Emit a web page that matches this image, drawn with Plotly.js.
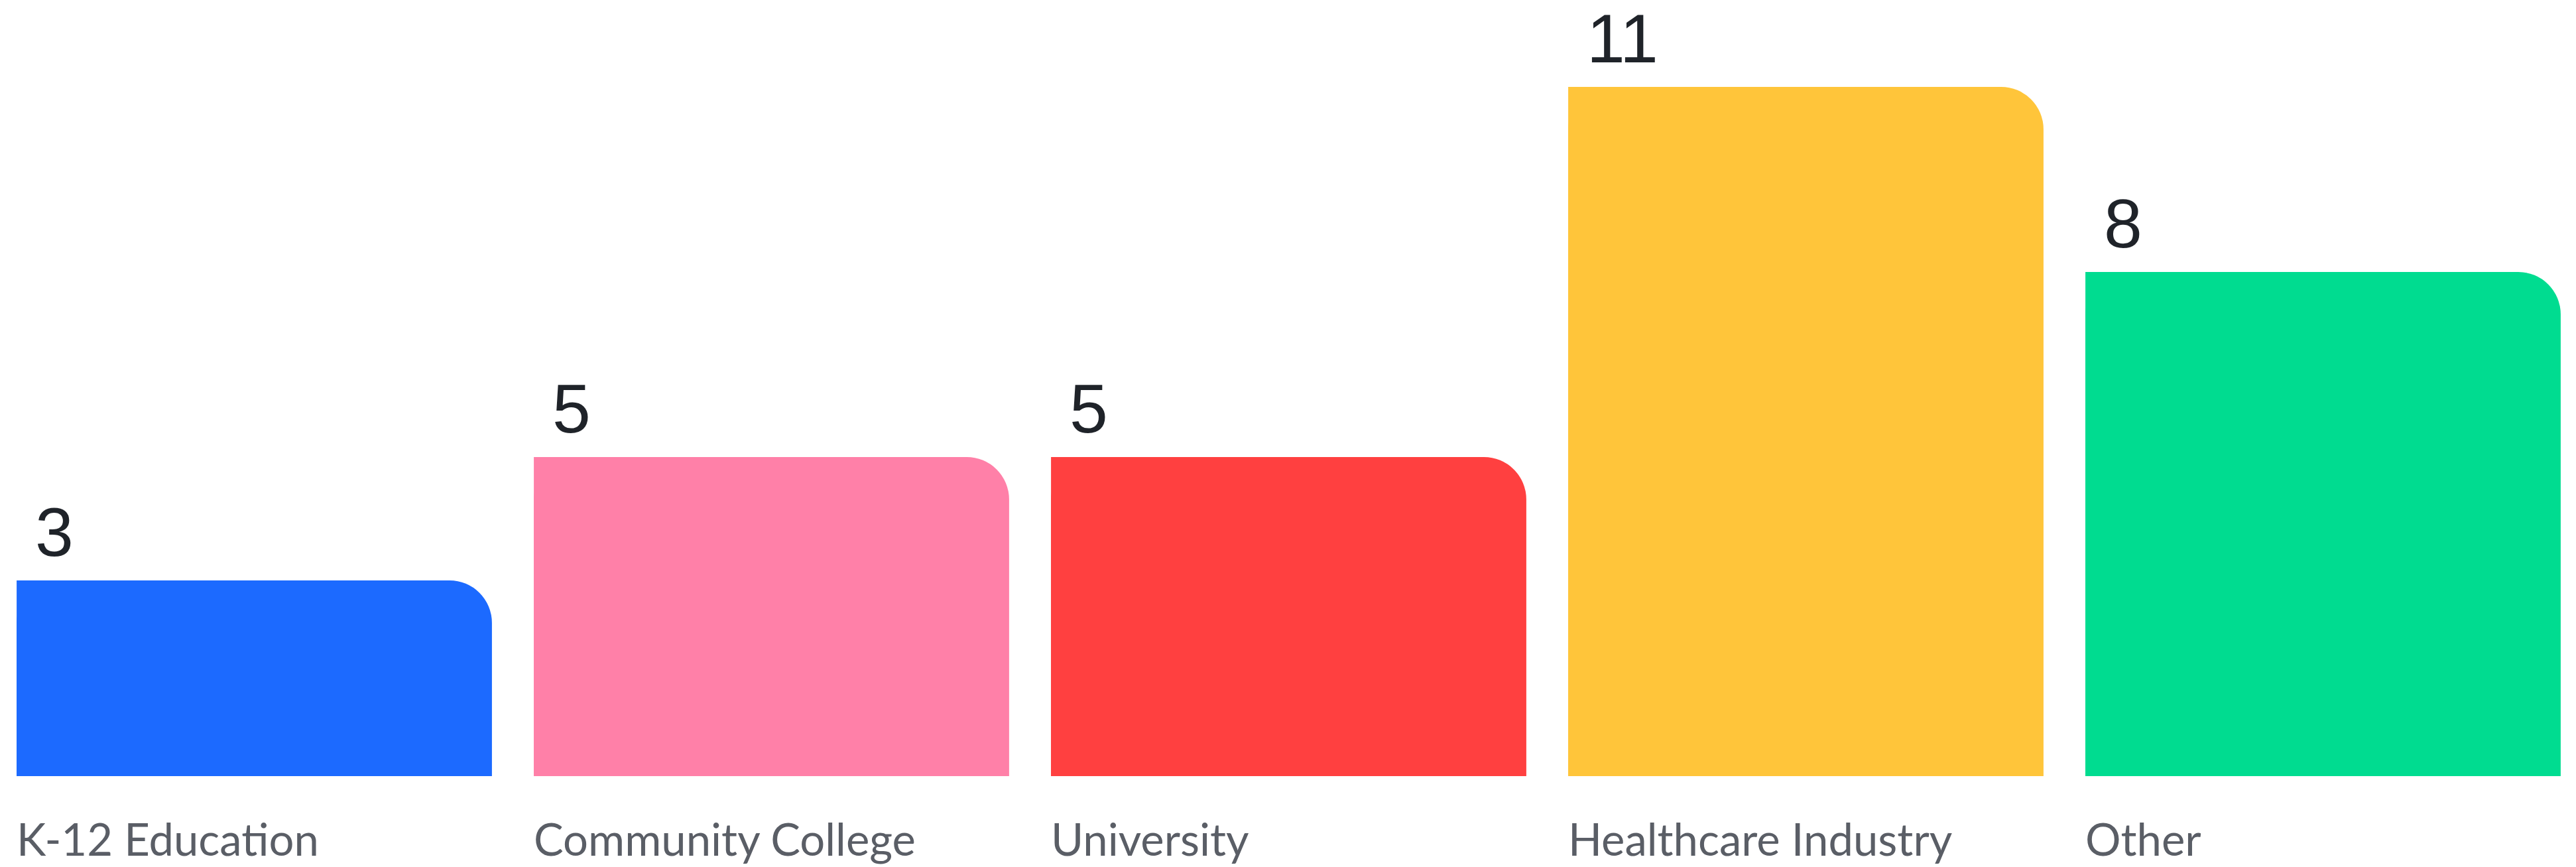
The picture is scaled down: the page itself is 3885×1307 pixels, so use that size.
<!DOCTYPE html>
<html>
<head>
<meta charset="utf-8">
<script src="https://cdn.plot.ly/plotly-3.0.1.min.js"></script>
<style>
  html, body { margin: 0; padding: 0; background: #ffffff; }
  #chart { width: 3885px; height: 1307px; }
</style>
</head>
<body>
<div id="chart"></div>
<script>
// ---- data ----
const categories = ['K-12 Education', 'Community College', 'University', 'Healthcare Industry', 'Other'];
const counts = [3, 5, 5, 11, 8];
const barColors = ['#1C6AFF', '#FF80A8', '#FF4040', '#FFC53A', '#00DC90'];

// ---- styling ----
const BAR_W = 0.919;           // bar width in category units
const HALF = BAR_W / 2;
const PITCH_PX = 780;          // pixels per category
const PX_PER_UNIT = 93;        // vertical pixels per count
const FOOT = 16 / PX_PER_UNIT; // every bar in the original carries a small fixed foot

const barHeight = counts.map(v => v + FOOT);

const mainBars = {
  type: 'bar',
  x: categories,
  y: barHeight,
  width: BAR_W,
  marker: { color: barColors, cornerradius: 64, line: { width: 0 } },
  hoverinfo: 'skip',
  showlegend: false
};
// square off the top-left corner: left half of each bar without rounding
const leftHalves = {
  type: 'bar',
  x: categories,
  y: barHeight,
  width: HALF,
  offset: -HALF,
  marker: { color: barColors, line: { width: 0 } },
  hoverinfo: 'skip',
  showlegend: false
};

const annotations = [];
categories.forEach((cat, i) => {
  annotations.push({
    x: i - HALF, y: barHeight[i], xref: 'x', yref: 'y',
    text: String(counts[i]),
    showarrow: false, xanchor: 'left', yanchor: 'bottom',
    xshift: 26, yshift: 13,
    font: { family: 'Liberation Sans, Arial, sans-serif', size: 104, color: '#1F2329' }
  });
  annotations.push({
    x: i - HALF, y: 0, xref: 'x', yref: 'paper',
    text: cat,
    showarrow: false, xanchor: 'left', yanchor: 'top',
    xshift: -2, yshift: -52,
    font: { family: 'Lato, sans-serif', size: 67, color: '#5A5E66' }
  });
});

const plotH = 1170;
const layout = {
  width: 3885, height: 1307,
  margin: { l: 0, r: 0, t: 0, b: 1307 - plotH, pad: 0 },
  paper_bgcolor: '#ffffff', plot_bgcolor: '#ffffff',
  barmode: 'overlay',
  xaxis: {
    type: 'category',
    range: [-383.5 / PITCH_PX, (3885 - 383.5) / PITCH_PX],
    showticklabels: false, showgrid: false, zeroline: false, showline: false, ticks: ''
  },
  yaxis: {
    range: [0, plotH / PX_PER_UNIT],
    showticklabels: false, showgrid: false, zeroline: false, showline: false, ticks: ''
  },
  annotations: annotations,
  showlegend: false
};

Plotly.newPlot('chart', [mainBars, leftHalves], layout, { displayModeBar: false, staticPlot: true });
</script>
</body>
</html>
